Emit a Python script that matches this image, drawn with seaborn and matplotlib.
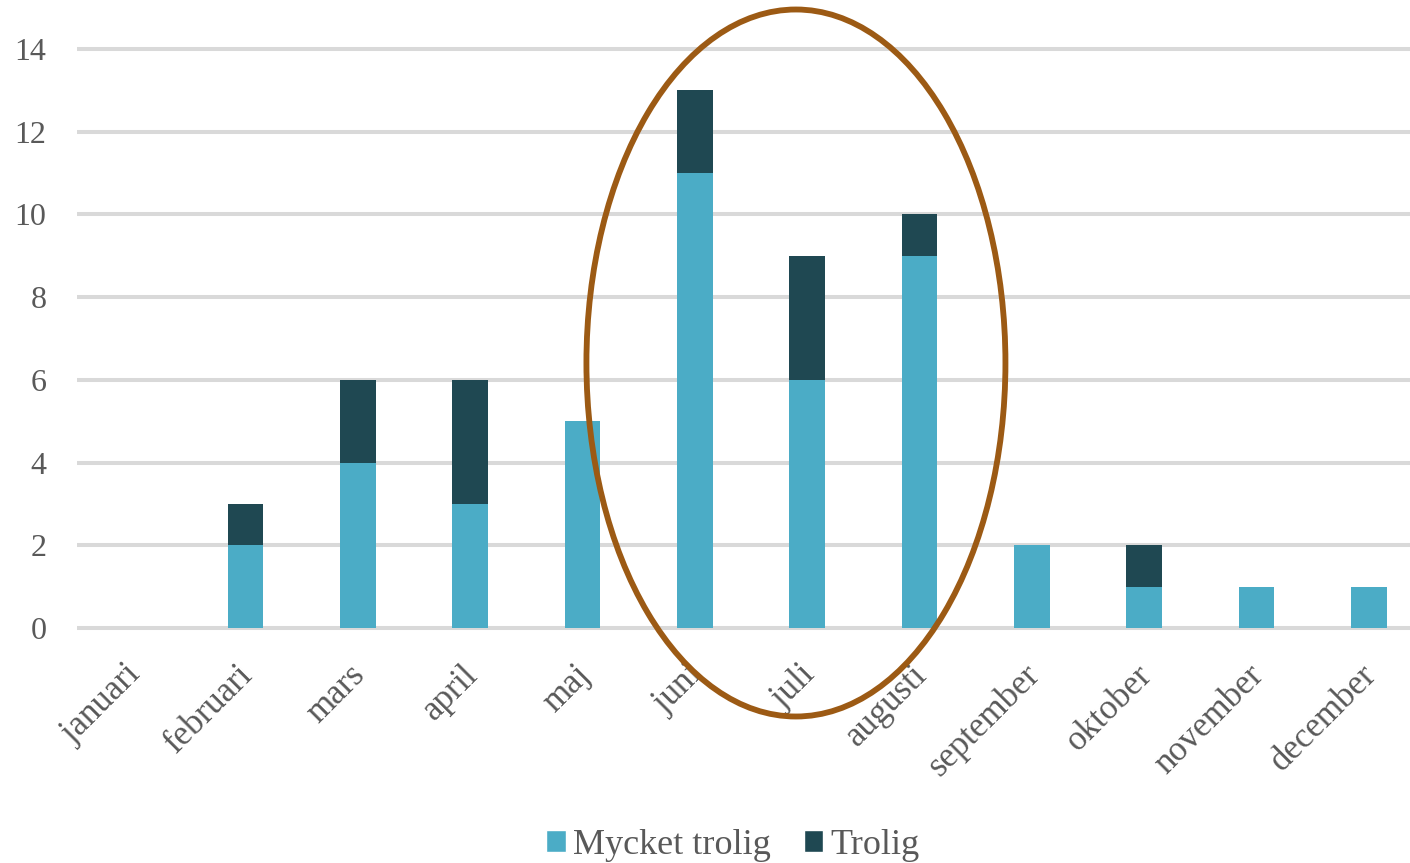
import matplotlib
matplotlib.use("Agg")
import matplotlib.pyplot as plt
import matplotlib.transforms as mtransforms
from matplotlib.patches import Ellipse, Patch
import seaborn as sns
import pandas as pd

months = ["januari", "februari", "mars", "april", "maj", "juni",
          "juli", "augusti", "september", "oktober", "november", "december"]
mycket_trolig = [0, 2, 4, 3, 5, 11, 6, 9, 2, 1, 1, 1]
trolig = [0, 1, 2, 3, 0, 2, 3, 1, 0, 1, 0, 0]
yticks = [0, 2, 4, 6, 8, 10, 12, 14]

light = "#4BACC6"
dark = "#1F4852"
text_color = "#595959"
grid_color = "#D9D9D9"

df = pd.DataFrame({"month": months, "mycket": mycket_trolig, "trolig": trolig})
df["total"] = df["mycket"] + df["trolig"]

sns.set_theme(style="white")
plt.rcParams["font.family"] = ["Liberation Serif", "DejaVu Serif"]

W, H = 1410, 863
fig = plt.figure(figsize=(W / 100, H / 100), dpi=100)

ymin, ymax = -0.1, 14.3
px_per_unit = (628 - 49) / 14
y_top_px = 628 - ymax * px_per_unit
y_bot_px = 628 - ymin * px_per_unit
x_left, x_right = 77, 1425
ax = fig.add_axes([x_left / W, 1 - y_bot_px / H, (x_right - x_left) / W, (y_bot_px - y_top_px) / H])

# stacked bars: full totals in dark, the lower segment in light on top
sns.barplot(data=df, x="month", y="total", color=dark, width=0.32,
            saturation=1, ax=ax, zorder=3, linewidth=0)
sns.barplot(data=df, x="month", y="mycket", color=light, width=0.32,
            saturation=1, ax=ax, zorder=4, linewidth=0)

ax.set_ylim(ymin, ymax)
ax.set_xlim(-0.5, len(months) - 0.5)
ax.set_yticks(yticks)
for y in yticks:
    ax.axhline(y, color=grid_color, lw=2.9, zorder=1)
for s in ax.spines.values():
    s.set_visible(False)
ax.set_xlabel("")
ax.set_ylabel("")
ax.tick_params(axis="both", length=0, colors=text_color)
ax.tick_params(axis="y", pad=22, labelsize=23)
ax.tick_params(axis="x", pad=19, labelsize=25)
shift = mtransforms.ScaledTranslation(-9 / 100, 0, fig.dpi_scale_trans)
for lbl in ax.get_xticklabels():
    lbl.set_rotation(45)
    lbl.set_ha("right")
    lbl.set_rotation_mode("anchor")
    lbl.set_transform(lbl.get_transform() + shift)

# highlight ellipse around the summer months
ell = Ellipse((5.9, 7.0 - (363 - 338.5) / px_per_unit), width=419 / 112.33,
              height=707 / px_per_unit, fill=False, edgecolor="#9C5A14",
              lw=4.2, zorder=6, clip_on=False)
ax.add_patch(ell)

handles = [Patch(facecolor=light, label="Mycket trolig"),
           Patch(facecolor=dark, label="Trolig")]
fig.legend(handles=handles, loc="center", bbox_to_anchor=(733 / W, 1 - 845 / H),
           ncol=2, frameon=False, fontsize=26, handlelength=0.55,
           handleheight=0.55, handletextpad=0.2, columnspacing=0.9,
           labelcolor=text_color)

fig.savefig("out.png", dpi=100)
